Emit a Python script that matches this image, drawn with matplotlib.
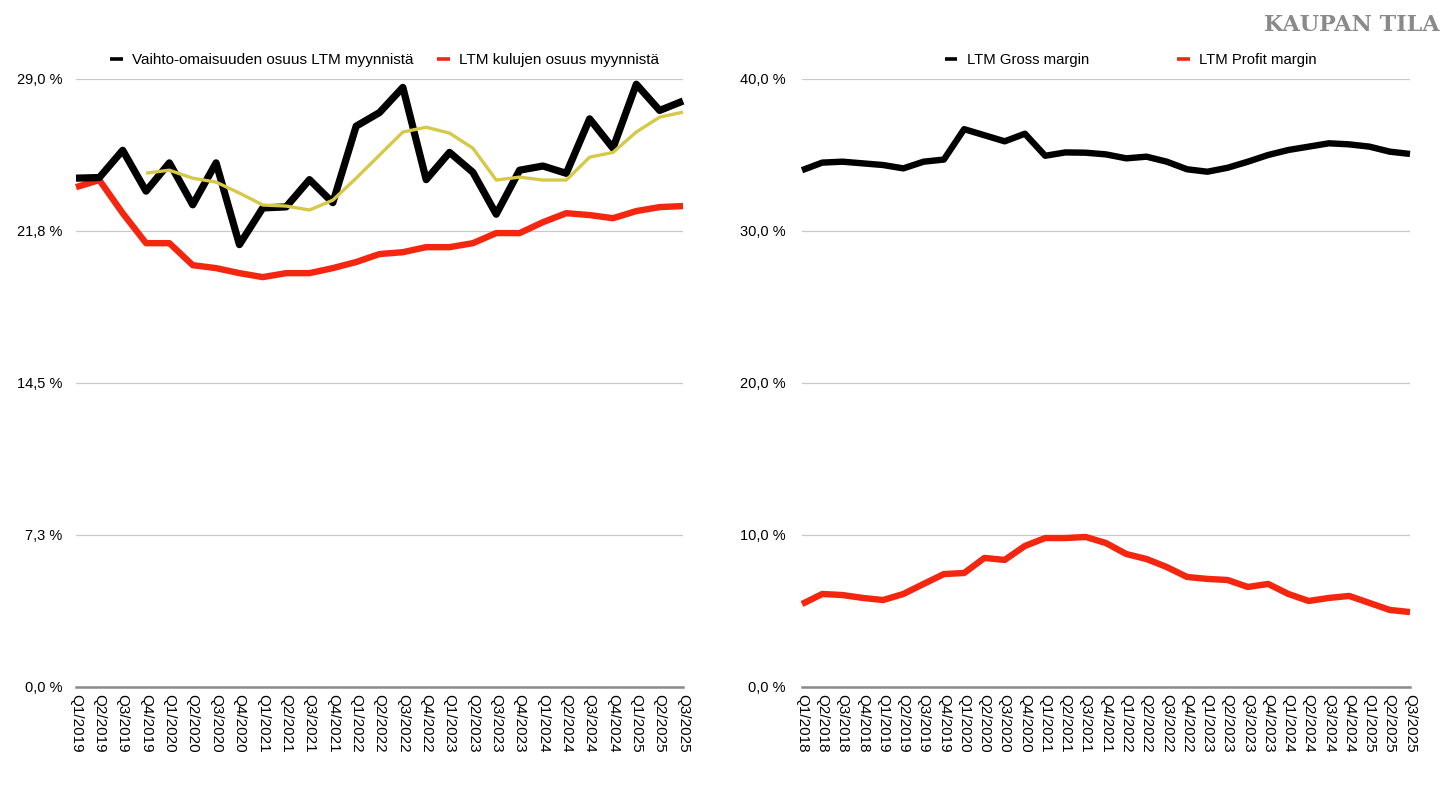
import matplotlib
matplotlib.use("Agg")
import matplotlib.pyplot as plt
import numpy as np

plt.rcParams['font.family'] = ['Liberation Sans', 'DejaVu Sans']

# ---------------- data: left chart ----------------
left_labels = ["Q1/2019", "Q2/2019", "Q3/2019", "Q4/2019",
               "Q1/2020", "Q2/2020", "Q3/2020", "Q4/2020",
               "Q1/2021", "Q2/2021", "Q3/2021", "Q4/2021",
               "Q1/2022", "Q2/2022", "Q3/2022", "Q4/2022",
               "Q1/2023", "Q2/2023", "Q3/2023", "Q4/2023",
               "Q1/2024", "Q2/2024", "Q3/2024", "Q4/2024",
               "Q1/2025", "Q2/2025", "Q3/2025"]
inventory_share = [24.27, 24.3, 25.6, 23.65, 25.0, 23.0, 25.0, 21.1, 22.85, 22.9,
                   24.2, 23.1, 26.75, 27.4, 28.6, 24.2, 25.5, 24.55, 22.55, 24.65,
                   24.85, 24.5, 27.1, 25.7, 28.75, 27.5, 27.95]
# trailing average of the inventory share, starts at Q4/2019
inventory_avg = [24.51, 24.65, 24.27, 24.08, 23.56, 22.99, 22.94, 22.75, 23.22,
                 24.27, 25.37, 26.47, 26.7, 26.42, 25.7, 24.18, 24.32, 24.18,
                 24.18, 25.27, 25.5, 26.47, 27.18, 27.42]
cost_share = [23.84, 24.18, 22.6, 21.17, 21.17, 20.12, 19.98, 19.74, 19.55, 19.74,
              19.74, 19.98, 20.27, 20.65, 20.74, 20.98, 20.98, 21.17, 21.65, 21.65,
              22.17, 22.6, 22.51, 22.36, 22.7, 22.89, 22.94]
left_yticks = [0.0, 7.25, 14.5, 21.75, 29.0]
left_ytick_labels = ["0,0 %", "7,3 %", "14,5 %", "21,8 %", "29,0 %"]

# ---------------- data: right chart ----------------
right_labels = ["Q1/2018", "Q2/2018", "Q3/2018", "Q4/2018",
                "Q1/2019", "Q2/2019", "Q3/2019", "Q4/2019",
                "Q1/2020", "Q2/2020", "Q3/2020", "Q4/2020",
                "Q1/2021", "Q2/2021", "Q3/2021", "Q4/2021",
                "Q1/2022", "Q2/2022", "Q3/2022", "Q4/2022",
                "Q1/2023", "Q2/2023", "Q3/2023", "Q4/2023",
                "Q1/2024", "Q2/2024", "Q3/2024", "Q4/2024",
                "Q1/2025", "Q2/2025", "Q3/2025"]
gross_margin = [34.0, 34.5, 34.56, 34.45, 34.34, 34.12, 34.56, 34.7, 36.7, 36.3,
                35.9, 36.4, 34.95, 35.17, 35.15, 35.04, 34.78, 34.89, 34.56, 34.06,
                33.9, 34.16, 34.56, 35.0, 35.33, 35.55, 35.77, 35.7, 35.55, 35.22,
                35.07]
profit_margin = [5.46, 6.12, 6.05, 5.86, 5.72, 6.12, 6.78, 7.43, 7.5, 8.49,
                 8.36, 9.28, 9.8, 9.8, 9.87, 9.47, 8.75, 8.42, 7.89, 7.24,
                 7.11, 7.04, 6.58, 6.78, 6.12, 5.66, 5.86, 5.99, 5.53, 5.07,
                 4.93]
right_yticks = [0, 10, 20, 30, 40]
right_ytick_labels = ["0,0 %", "10,0 %", "20,0 %", "30,0 %", "40,0 %"]

BLACK = "#000000"
RED = "#f5260f"
YELLOW = "#d6c94a"
GRID = "#c9c9c9"
BASE = "#8a8a8a"

W, H = 1456, 811
fig = plt.figure(figsize=(W / 100, H / 100), dpi=100)
fig.patch.set_facecolor("white")

ax_l = fig.add_axes([76 / W, (H - 687) / H, (683 - 76) / W, (687 - 79) / H])
ax_r = fig.add_axes([802 / W, (H - 687) / H, (1410 - 802) / W, (687 - 79) / H])


def style(ax, labels, yticks, yticklabels, ypad):
    n = len(labels)
    ax.set_xlim(0, n - 1)
    ax.set_ylim(yticks[0], yticks[-1])
    ax.set_xticks(np.arange(n))
    ax.set_xticklabels(labels, rotation=270, fontsize=11, va="top", ha="center")
    ax.set_yticks(yticks)
    ax.set_yticklabels(yticklabels, fontsize=10.5)
    for s in ["top", "right", "left"]:
        ax.spines[s].set_visible(False)
    ax.spines["bottom"].set_color(BASE)
    ax.spines["bottom"].set_linewidth(1.8)
    ax.tick_params(axis="both", length=0)
    ax.tick_params(axis="y", pad=ypad)
    ax.tick_params(axis="x", pad=5)
    ax.yaxis.grid(True, color=GRID, linewidth=0.9)
    ax.xaxis.grid(False)
    ax.set_axisbelow(True)


style(ax_l, left_labels, left_yticks, left_ytick_labels, 10)
style(ax_r, right_labels, right_yticks, right_ytick_labels, 12)

xl = np.arange(len(left_labels))
common = dict(solid_joinstyle="round", solid_capstyle="butt", clip_on=False)
ax_l.plot(xl, cost_share, color=RED, lw=4.6, zorder=3,
          label="LTM kulujen osuus myynnistä", **common)
ax_l.plot(xl, inventory_share, color=BLACK, lw=5.2, zorder=4,
          label="Vaihto-omaisuuden osuus LTM myynnistä", **common)
ax_l.plot(xl[len(xl) - len(inventory_avg):], inventory_avg, color=YELLOW, lw=2.4,
          zorder=5, **common)

xr = np.arange(len(right_labels))
ax_r.plot(xr, gross_margin, color=BLACK, lw=4.6, zorder=4,
          label="LTM Gross margin", **common)
ax_r.plot(xr, profit_margin, color=RED, lw=4.6, zorder=3,
          label="LTM Profit margin", **common)

# legends
h, l = ax_l.get_legend_handles_labels()
order = [1, 0]
leg_l = ax_l.legend([h[i] for i in order], [l[i] for i in order], ncol=2,
                    loc="center", bbox_to_anchor=(0.508, 1 + 19 / 608),
                    frameon=False, fontsize=11, handlelength=0.85,
                    handletextpad=0.6, columnspacing=1.5, borderaxespad=0)
for lh in leg_l.get_lines():
    lh.set_linewidth(2.6)

leg_r = ax_r.legend(ncol=2, loc="center", bbox_to_anchor=(0.541, 1 + 19 / 608),
                    frameon=False, fontsize=10.7, handlelength=0.85,
                    handletextpad=0.65, columnspacing=5.9, borderaxespad=0)
for lh in leg_r.get_lines():
    lh.set_linewidth(2.6)

fig.text(1440 / W, 1 - 25 / H, "KAUPAN TILA", ha="right", va="center",
         fontsize=16, fontweight="bold", color="#8a8a8a",
         family=["DejaVu Serif"])

fig.savefig("out.png", dpi=100, facecolor="white")
